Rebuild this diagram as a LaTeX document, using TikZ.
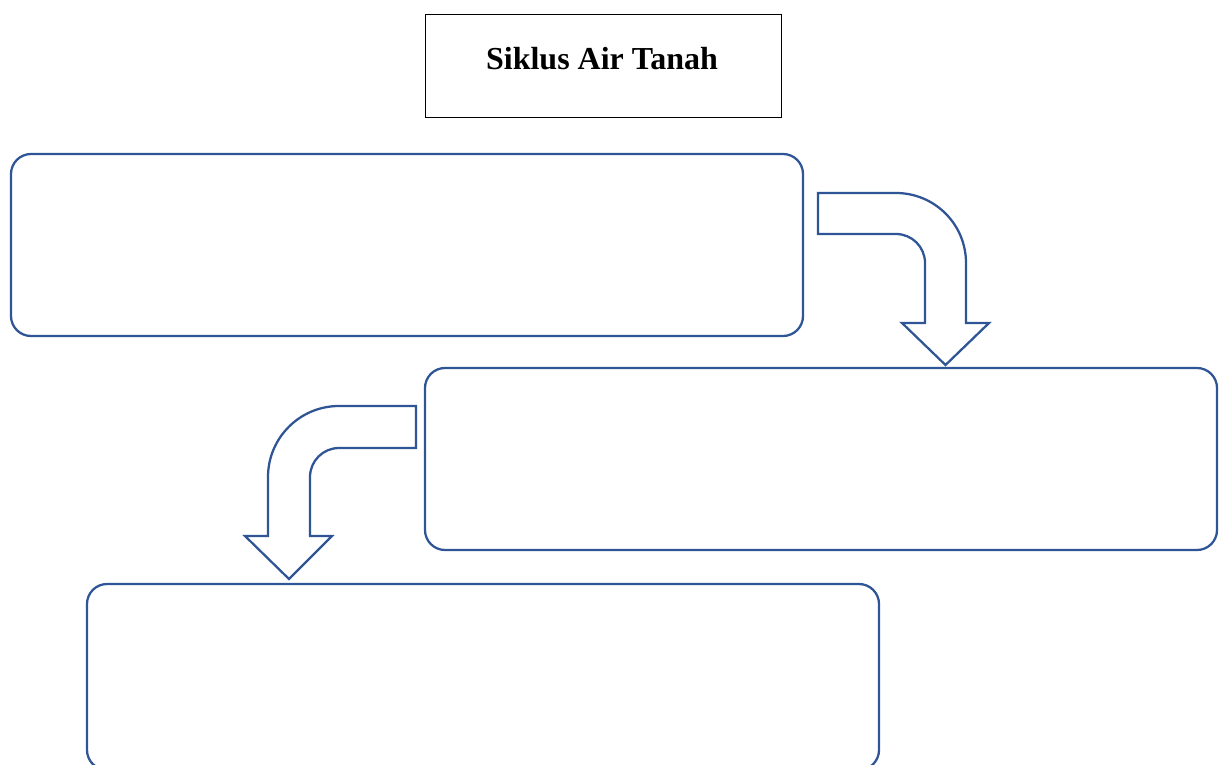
\documentclass[tikz,border=0pt]{standalone}
\usepackage{fontspec}
\setmainfont{Liberation Serif}
\definecolor{boxblue}{HTML}{2F5597}
\begin{document}
\begin{tikzpicture}[x=0.75pt,y=-0.75pt,
  roundbox/.style={draw=boxblue,line width=1.7pt,rounded corners=15pt,
    minimum width=594pt,minimum height=136.5pt,inner sep=0pt},
  titlebox/.style={draw=black,line width=0.75pt,minimum width=267pt,minimum height=77.25pt,inner sep=0pt},
  blockarrow/.style={draw=boxblue,line width=1.7pt,line join=miter,fill=white}]
\useasboundingbox (0,0) rectangle (1219,764);
\clip (0,0) rectangle (1219,764);
% title
\node[titlebox] (title) at (603,65.5) {};
\node[font=\bfseries\fontsize{24}{28}\selectfont] (titletext) at (602,58.5) {Siklus Air Tanah};
% boxes
\node[roundbox] (b1) at (407,245) {};
\node[roundbox] (b2) at (821,459) {};
\node[roundbox,minimum height=139.5pt] (b3) at (483,677) {};
% bent arrow 1 (right then down)
\draw[blockarrow] (818,193) -- (896,193) .. controls (934.7,193) and (966,224.3) .. (966,263)
  -- (966,323) -- (989,323) -- (945.5,365) -- (902,323) -- (925,323) -- (925,263)
  .. controls (925,247) and (912,234) .. (896,234) -- (818,234) -- cycle;
% bent arrow 2 (left then down)
\draw[blockarrow] (416,406) -- (339,406) .. controls (299.8,406) and (268,437.8) .. (268,477)
  -- (268,536) -- (245,536) -- (289,579) -- (332,536) -- (310,536) -- (310,477)
  .. controls (310,461) and (323,448) .. (339,448) -- (416,448) -- cycle;
\end{tikzpicture}
\end{document}
